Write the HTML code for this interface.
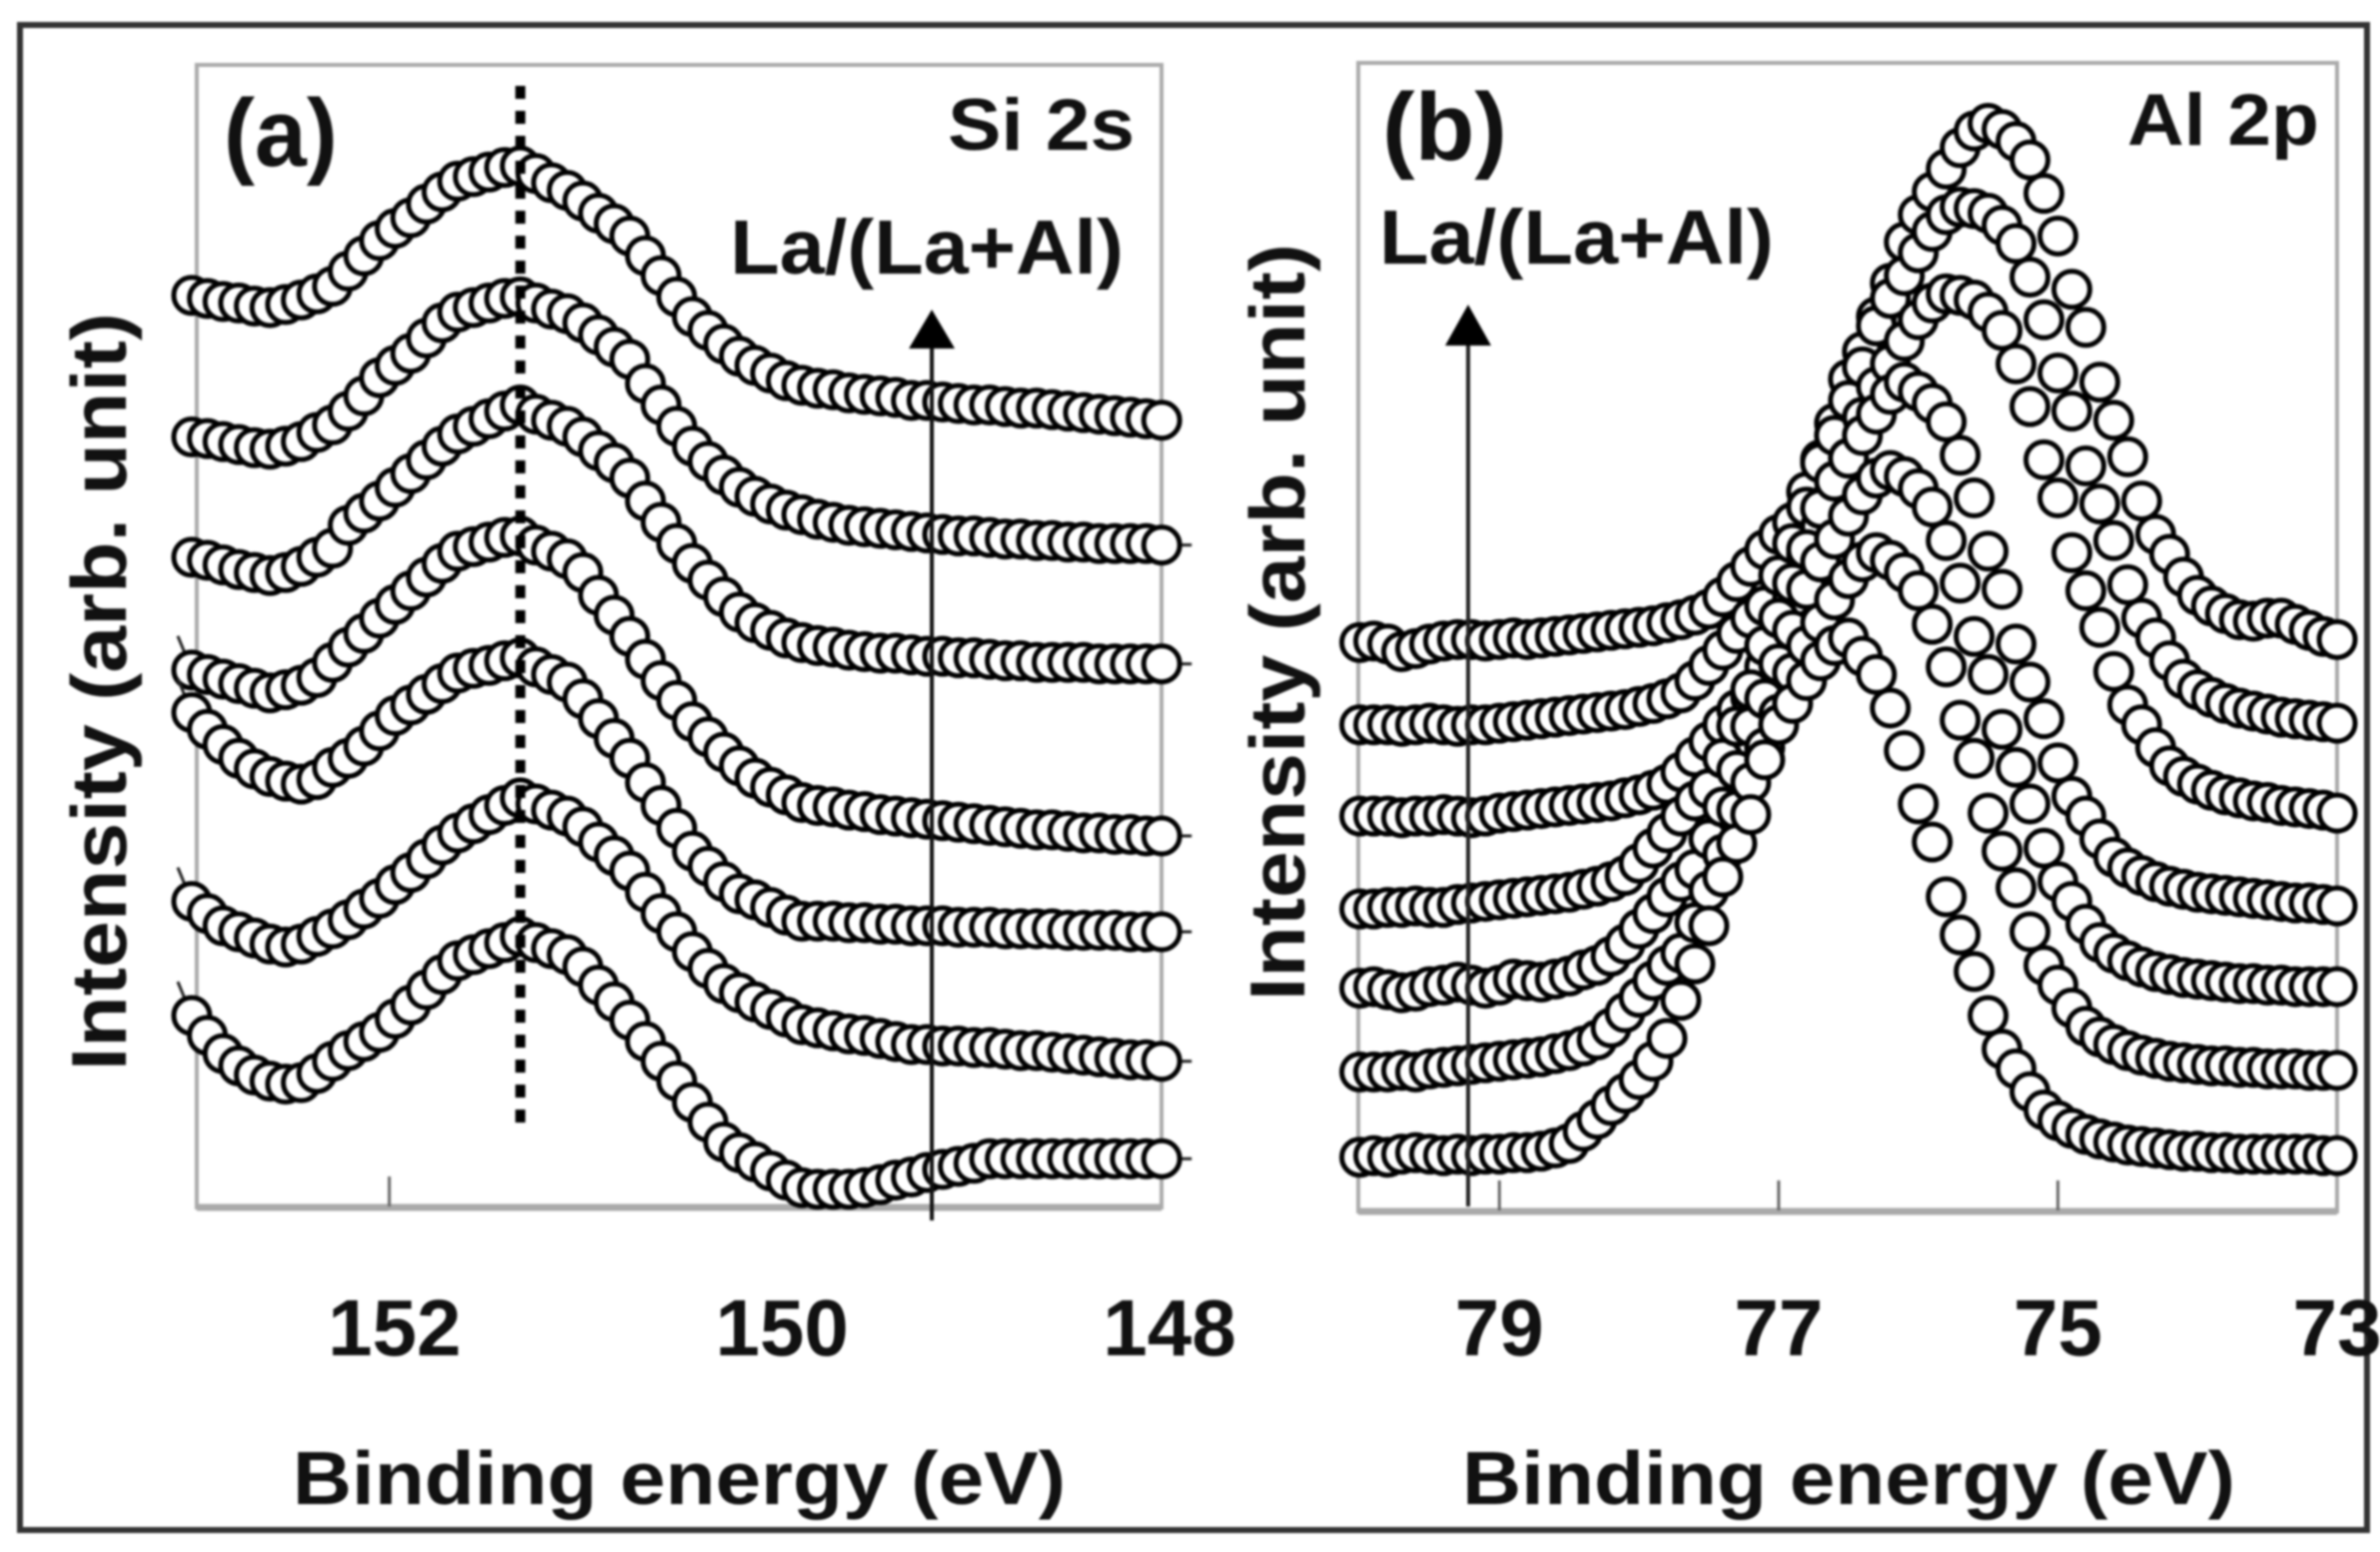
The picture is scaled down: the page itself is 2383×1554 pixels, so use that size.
<!DOCTYPE html>
<html lang="en">
<head>
<meta charset="utf-8">
<title>XPS spectra: Si 2s and Al 2p</title>
<style>
html,body{margin:0;padding:0;background:#fff;}
body{width:2383px;height:1554px;overflow:hidden;}
svg{display:block;filter:blur(1px);}
text{font-family:"Liberation Sans",sans-serif;font-weight:700;fill:#111;}
</style>
</head>
<body>
<svg id="figure" xmlns="http://www.w3.org/2000/svg" width="2383" height="1554" viewBox="0 0 2383 1554">
  <rect x="0" y="0" width="2383" height="1554" fill="#fff"/>
  <rect x="20" y="25" width="2350" height="1507" fill="none" stroke="#333" stroke-width="6"/>

  <g id="panel-a">
    <path d="M197 65H1163V1209H197Z" fill="none" stroke="#aaa" stroke-width="4"/>
    <line x1="197" y1="1209" x2="1163" y2="1209" stroke="#aaa" stroke-width="7"/>
    <g id="panel-a-ticks"></g>
    <g id="panel-a-series"></g>
    <line x1="521" y1="86" x2="521" y2="1136" stroke="#000" stroke-width="10" stroke-dasharray="13 12"/>
    <line x1="933" y1="1222" x2="933" y2="345" stroke="#111" stroke-width="4"/>
    <polygon points="933,310 910,349 956,349" fill="#000"/>
    <text x="224" y="166" font-size="96" textLength="114" lengthAdjust="spacingAndGlyphs">(a)</text>
    <text x="949" y="150" font-size="73" textLength="187" lengthAdjust="spacingAndGlyphs">Si 2s</text>
    <text x="731" y="274" font-size="77" textLength="394" lengthAdjust="spacingAndGlyphs">La/(La+Al)</text>
    <text transform="translate(126,1072) rotate(-90)" x="0" y="0" font-size="78" textLength="759" lengthAdjust="spacingAndGlyphs">Intensity (arb. unit)</text>
    <text x="293" y="1506" font-size="75" textLength="774" lengthAdjust="spacingAndGlyphs">Binding energy (eV)</text>
  </g>

  <g id="panel-b">
    <path d="M1360 63H2340V1213H1360Z" fill="none" stroke="#aaa" stroke-width="4"/>
    <line x1="1360" y1="1213" x2="2340" y2="1213" stroke="#aaa" stroke-width="7"/>
    <g id="panel-b-ticks"></g>
    <g id="panel-b-series"></g>
    <line x1="1470" y1="1208" x2="1470" y2="345" stroke="#222" stroke-width="4"/>
    <polygon points="1470,305 1447,346 1493,346" fill="#000"/>
    <text x="1384" y="160" font-size="96" textLength="125" lengthAdjust="spacingAndGlyphs">(b)</text>
    <text x="2130" y="145" font-size="73" textLength="192" lengthAdjust="spacingAndGlyphs">Al 2p</text>
    <text x="1381" y="264" font-size="77" textLength="395" lengthAdjust="spacingAndGlyphs">La/(La+Al)</text>
    <text transform="translate(1306,1002) rotate(-90)" x="0" y="0" font-size="78" textLength="758" lengthAdjust="spacingAndGlyphs">Intensity (arb. unit)</text>
    <text x="1464" y="1506" font-size="75" textLength="774" lengthAdjust="spacingAndGlyphs">Binding energy (eV)</text>
  </g>
</svg>

<script>
// Panel (a) Si 2s
const siEnergies = [153.00,152.92,152.84,152.76,152.68,152.60,152.52,152.44,152.36,152.28,152.20,152.12,152.04,151.96,151.88,151.80,151.72,151.64,151.56,151.48,151.40,151.32,151.24,151.16,151.08,151.00,150.92,150.84,150.76,150.68,150.60,150.52,150.44,150.36,150.28,150.20,150.12,150.04,149.96,149.88,149.80,149.72,149.64,149.56,149.48,149.40,149.32,149.24,149.16,149.08,149.00,148.92,148.84,148.76,148.68,148.60,148.52,148.44,148.36,148.28,148.20,148.12,148.04];
const siSeries1 = [600,598,596,595,593,592,594,597,601,606,616,626,636,644,651,660,668,675,678,681,684,685,680,674,669,662,654,647,639,626,613,599,586,577,568,560,554,549,544,541,539,538,536,535,534,533,531,531,530,529,528,528,527,526,526,525,524,523,522,521,520,519,518];
const siSeries2 = [507,506,504,502,500,499,501,504,510,515,524,534,546,554,562,572,582,589,592,595,598,599,595,591,588,582,574,566,558,542,528,514,501,491,482,474,468,463,459,456,453,451,449,448,447,446,445,444,443,442,442,441,440,440,439,439,438,438,437,437,437,437,436];
const siSeries3 = [428,426,423,420,418,416,418,422,428,434,449,457,465,474,483,492,501,509,514,519,524,528,522,518,514,507,498,490,480,465,451,437,424,413,402,392,385,380,375,372,370,369,367,366,365,365,364,363,363,362,362,361,360,360,359,359,359,359,358,358,358,358,358];
const siSeries4 = [354,351,348,345,342,339,341,344,349,359,369,378,388,397,406,415,424,432,435,438,441,442,436,432,427,418,403,390,376,361,347,334,320,310,300,291,283,277,272,267,265,264,262,261,259,258,257,256,255,254,253,252,251,250,249,249,248,247,247,246,246,245,245];
const siSeries5 = [326,315,305,296,289,284,281,279,282,290,296,304,314,324,331,338,345,352,355,357,360,362,356,351,346,335,322,309,296,280,265,250,235,225,215,207,203,198,193,189,189,189,188,188,187,187,186,186,186,185,185,185,184,184,184,184,183,183,183,183,182,182,182];
const siSeries6 = [202,194,186,182,178,174,172,174,179,184,190,197,204,213,221,230,239,247,253,259,265,270,266,262,258,251,241,232,222,208,194,182,169,158,148,142,136,131,126,121,119,117,115,114,112,110,108,108,107,107,106,106,105,104,104,103,102,101,100,99,98,98,97];
const siSeries7 = [127,114,102,94,88,84,82,83,89,97,104,110,116,125,134,144,154,163,167,171,175,179,175,171,167,159,147,136,124,110,97,84,70,57,44,37,31,25,19,14,13,13,13,14,16,19,21,24,26,28,30,33,33,33,33,33,33,33,33,33,33,33,33];
const siTickValues = [152];
const siTickLabels = ["152","150","148"];
const siTickLabelEnergies = [152,150,148];

// Panel (b) Al 2p
const alEnergies = [80.0,79.9,79.8,79.7,79.6,79.5,79.4,79.3,79.2,79.1,79.0,78.9,78.8,78.7,78.6,78.5,78.4,78.3,78.2,78.1,78.0,77.9,77.8,77.7,77.6,77.5,77.4,77.3,77.2,77.1,77.0,76.9,76.8,76.7,76.6,76.5,76.4,76.3,76.2,76.1,76.0,75.9,75.8,75.7,75.6,75.5,75.4,75.3,75.2,75.1,75.0,74.9,74.8,74.7,74.6,74.5,74.4,74.3,74.2,74.1,74.0,73.9,73.8,73.7,73.6,73.5,73.4,73.3,73.2,73.1,73.0];
const alSeries1 = [372,373,371,366,368,371,373,374,374,373,374,375,374,375,376,377,378,379,380,381,382,383,385,387,390,394,402,412,422,433,443,451,471,492,516,545,563,586,608,635,653,668,683,697,708,713,709,701,689,667,639,604,579,543,518,494,465,443,430,415,403,396,391,387,386,388,388,384,380,376,374];
const alSeries2 = [318,318,318,317,318,319,318,317,318,318,319,320,321,322,323,324,325,326,327,328,330,332,335,339,347,357,367,378,388,396,416,437,461,490,508,531,553,580,598,613,628,642,653,658,657,654,646,634,612,584,549,524,488,463,439,410,388,375,360,348,341,336,332,329,327,325,323,322,321,320,319];
const alSeries3 = [258,258,258,257,258,258,259,258,257,258,260,261,262,263,264,265,266,267,268,270,272,275,279,287,297,307,318,328,336,356,377,401,430,448,471,493,520,540,555,570,584,595,601,600,597,589,577,555,527,492,467,431,406,382,353,331,318,303,291,284,279,275,272,270,268,267,265,264,263,262,260];
const alSeries4 = [197,197,198,198,199,198,198,200,201,202,203,204,205,206,207,208,210,212,215,219,227,237,247,258,268,276,296,317,341,370,388,411,433,460,478,493,508,522,535,543,537,529,517,495,467,432,407,371,346,322,293,271,258,243,231,224,219,215,212,210,208,207,206,205,204,203,202,201,201,200,199];
const alSeries5 = [145,146,144,142,143,146,147,149,147,145,147,151,150,149,151,153,157,160,166,174,184,194,205,215,223,243,264,288,317,335,358,380,407,425,440,455,469,480,485,481,473,461,439,411,376,351,315,290,266,237,215,202,187,175,168,163,159,156,154,152,151,150,149,148,148,147,147,146,146,146,146];
const alSeries6 = [90,90,90,91,90,92,93,94,95,96,97,98,99,100,102,104,107,111,119,129,139,150,160,168,188,209,233,262,280,303,325,352,370,385,400,414,425,431,426,418,406,384,356,321,296,260,235,211,182,160,147,132,120,113,108,104,101,99,97,96,95,94,94,93,93,92,92,92,91,91,91];
const alSeries7 = [34,35,34,36,37,36,35,36,35,36,36,37,37,38,40,43,51,59,68,76,85,97,112,137,161,186,218,240,259,295,318,332,347,360,370,375,363,351,329,301,266,241,205,180,156,127,105,92,77,65,58,53,49,46,44,42,41,40,39,38,38,37,37,36,36,36,36,36,36,35,35];
const alTickValues = [79,77,75];
const alTickLabels = ["79","77","75","73"];
const alTickLabelEnergies = [79,77,75,73];

const siSeriesList = [siSeries1,siSeries2,siSeries3,siSeries4,siSeries5,siSeries6,siSeries7];
const alSeriesList = [alSeries1,alSeries2,alSeries3,alSeries4,alSeries5,alSeries6,alSeries7];

const SVG_NS = "http://www.w3.org/2000/svg";

function xSi(energy){ return 192 + (153 - energy) * 195.8; }
function xSiLabel(energy){ return 395 + (152 - energy) * 194; }
function xAl(energy){ return 1361.5 + (80 - energy) * 139.8; }
function yIntensity(value){ return (794 - value) * 1.5246; }

function drawLine(parent, x1, y1, x2, y2, stroke, width, name){
  const line = document.createElementNS(SVG_NS, "line");
  line.setAttribute("x1", x1);
  line.setAttribute("y1", y1);
  line.setAttribute("x2", x2);
  line.setAttribute("y2", y2);
  line.setAttribute("stroke", stroke);
  line.setAttribute("stroke-width", width);
  
  
  parent.appendChild(line);
}

function drawLabel(parent, x, y, label, name){
  const t = document.createElementNS(SVG_NS, "text");
  t.setAttribute("x", x);
  t.setAttribute("y", y);
  t.setAttribute("font-size", "80");
  t.setAttribute("text-anchor", "middle");
  
  
  t.textContent = label;
  parent.appendChild(t);
}

function drawSeries(parent, energies, values, xFn, seriesName){
  const g = document.createElementNS(SVG_NS, "g");
  
  
  values.forEach(function(v, i){
    const c = document.createElementNS(SVG_NS, "circle");
    c.setAttribute("cx", xFn(energies[i]));
    c.setAttribute("cy", yIntensity(v));
    c.setAttribute("r", "18");
    c.setAttribute("fill", "#fff");
    c.setAttribute("stroke", "#000");
    c.setAttribute("stroke-width", "5");
    
    
    g.appendChild(c);
  });
  parent.appendChild(g);
}

const siGroup = document.getElementById("panel-a-series");
siSeriesList.forEach(function(values, s){
  const first = values[0];
  const last = values[values.length - 1];
  const xEnd = xSi(siEnergies[siEnergies.length - 1]);
  if (s > 0) {
    drawLine(siGroup, xEnd, yIntensity(last), xEnd + 30, yIntensity(last), "#222", 3, "si-series-tail");
  }
  if (s > 2) {
    drawLine(siGroup, xSi(siEnergies[0]), yIntensity(first), xSi(siEnergies[0]) - 14, yIntensity(first) - 34, "#222", 3, "si-series-lead");
  }
  drawSeries(siGroup, siEnergies, values, xSi, "si-2s-series-" + (s + 1));
});

const alGroup = document.getElementById("panel-b-series");
alSeriesList.forEach(function(values, s){
  drawSeries(alGroup, alEnergies, values, xAl, "al-2p-series-" + (s + 1));
});

const siTicks = document.getElementById("panel-a-ticks");
siTickValues.forEach(function(v){
  drawLine(siTicks, xSi(v) + 2, 1178, xSi(v) + 2, 1208, "#666", 3, "si-x-tick");
});
siTickLabels.forEach(function(label, i){
  drawLabel(siTicks, xSiLabel(siTickLabelEnergies[i]), 1357, label, "si-x-tick-label");
});

const alTicks = document.getElementById("panel-b-ticks");
alTickValues.forEach(function(v){
  drawLine(alTicks, xAl(v), 1182, xAl(v), 1212, "#666", 3, "al-x-tick");
});
alTickLabels.forEach(function(label, i){
  drawLabel(alTicks, xAl(alTickLabelEnergies[i]), 1357, label, "al-x-tick-label");
});
</script>
</body>
</html>
